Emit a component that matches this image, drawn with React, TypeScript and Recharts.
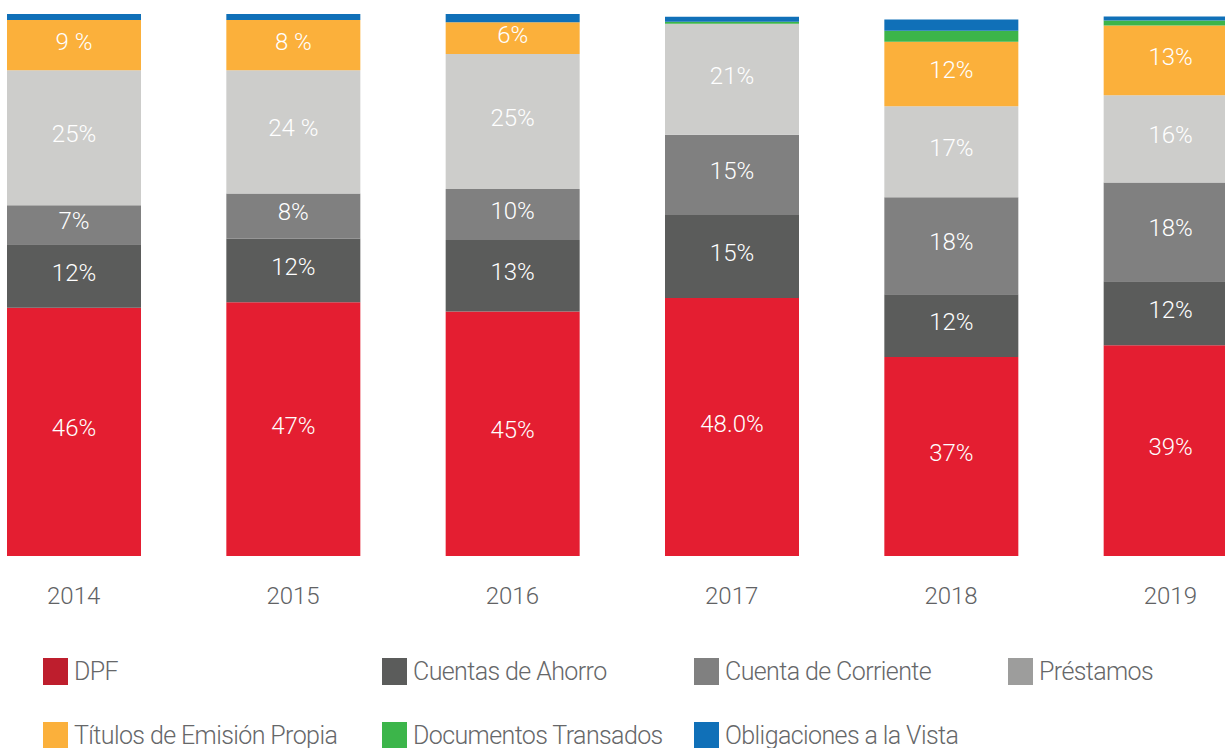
import React from 'react';
import { BarChart, Bar, XAxis, YAxis, Legend, LabelList } from 'recharts';

const years = ['2014', '2015', '2016', '2017', '2018', '2019'];

const dpf = [45.8, 46.8, 45.1, 47.6, 36.7, 38.9];
const ahorro = [11.7, 11.8, 13.2, 15.3, 11.6, 11.8];
const corriente = [7.2, 8.3, 9.4, 14.8, 17.9, 18.2];
const prestamos = [24.9, 22.7, 24.9, 20.5, 16.8, 16.1];
const titulos = [9.3, 9.3, 5.9, 0, 11.9, 12.9];
const documentos = [0, 0, 0, 0.35, 2.0, 0.9];
const obligaciones = [1.1, 1.1, 1.5, 0.95, 2.1, 0.75];

const dpfLabels = ['46%', '47%', '45%', '48.0%', '37%', '39%'];
const ahorroLabels = ['12%', '12%', '13%', '15%', '12%', '12%'];
const corrienteLabels = ['7%', '8%', '10%', '15%', '18%', '18%'];
const prestamosLabels = ['25%', '24 %', '25%', '21%', '17%', '16%'];
const titulosLabels = ['9 %', '8 %', '6%', '', '12%', '13%'];

const seriesNames = [
  'DPF',
  'Cuentas de Ahorro',
  'Cuenta de Corriente',
  'Préstamos',
  'Títulos de Emisión Propia',
  'Documentos Transados',
  'Obligaciones a la Vista',
];
const seriesKeys = ['dpf', 'ahorro', 'corriente', 'prestamos', 'titulos', 'documentos', 'obligaciones'];
const barColors = ['#E41E31', '#5B5C5B', '#808080', '#CDCDCB', '#FBB03B', '#3CB54A', '#1070B8'];
const legendColors = ['#BE1E2D', '#5B5C5B', '#808080', '#9D9D9C', '#FBB03B', '#3CB54A', '#1070B8'];

const data = years.map((y, i) => ({
  year: y,
  dpf: dpf[i],
  ahorro: ahorro[i],
  corriente: corriente[i],
  prestamos: prestamos[i],
  titulos: titulos[i],
  documentos: documentos[i],
  obligaciones: obligaciones[i],
  dpfLabel: dpfLabels[i],
  ahorroLabel: ahorroLabels[i],
  corrienteLabel: corrienteLabels[i],
  prestamosLabel: prestamosLabels[i],
  titulosLabel: titulosLabels[i],
}));

const FONT = 'Roboto, "Noto Sans", sans-serif';
const OFFSET = 36;

const legendCols = [43, 382, 694, 1008];

const LegendContent = () => {
  return (
    <div style={{ position: 'relative', width: 1225, height: 100, fontFamily: FONT }}>
      {seriesNames.map((name, i) => {
        const col = i % 4;
        const row = Math.floor(i / 4);
        return (
          <div
            key={name}
            style={{
              position: 'absolute',
              left: legendCols[col],
              top: row * 64,
              display: 'flex',
              alignItems: 'center',
              height: 30,
              whiteSpace: 'nowrap',
            }}
          >
            <span style={{ display: 'inline-block', width: 25, height: 27, background: legendColors[i], marginRight: 6 }} />
            <span style={{ fontSize: 25, fontWeight: 300, color: '#666769', letterSpacing: -0.6 }}>{name}</span>
          </div>
        );
      })}
    </div>
  );
};

const labelProps = { position: 'center' as const, fill: '#FFFFFF', fontSize: 24, fontFamily: FONT, fontWeight: 300, dy: -4 };

export default function App() {
  return (
    <div style={{ position: 'absolute', left: 0, top: 0, width: 1225, height: 748, overflow: 'hidden', background: '#fff' }}>
      <div style={{ position: 'absolute', left: -OFFSET, top: 0 }}>
        <BarChart
          width={1316}
          height={748}
          data={data}
          margin={{ top: 14, right: 0, left: 0, bottom: 132 }}
          barSize={134}
        >
          <XAxis
            dataKey="year"
            axisLine={false}
            tickLine={false}
            height={60}
            tickMargin={25}
            tick={{ fontSize: 24, fill: '#616264', fontFamily: FONT, fontWeight: 300 }}
            interval={0}
          />
          <YAxis hide domain={[0, 100]} />
          <Legend
            layout="horizontal"
            verticalAlign="middle"
            align="center"
            content={<LegendContent />}
            wrapperStyle={{ top: 656, left: OFFSET, width: 1225 }}
          />
          {seriesKeys.map((k, i) => (
            <Bar key={k} dataKey={k} name={seriesNames[i]} stackId="a" fill={barColors[i]} isAnimationActive={false}>
              {i < 5 ? <LabelList dataKey={`${k}Label`} {...labelProps} /> : null}
            </Bar>
          ))}
        </BarChart>
      </div>
    </div>
  );
}
